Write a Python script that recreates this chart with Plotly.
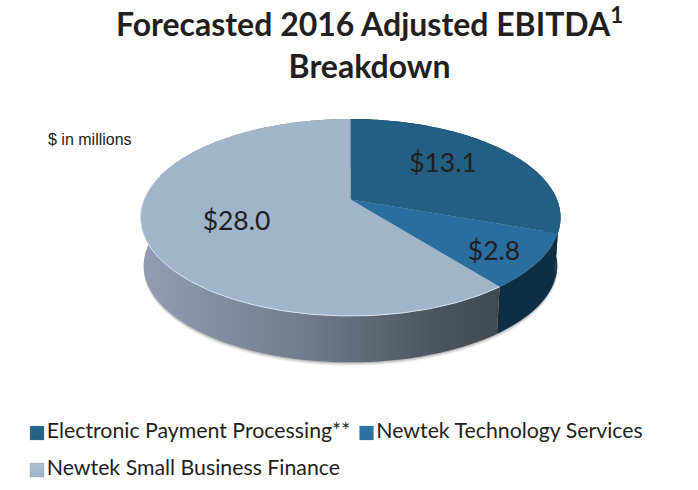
import numpy as np
import plotly.graph_objects as go

# ---- data ----
categories = ["Electronic Payment Processing**", "Newtek Technology Services", "Newtek Small Business Finance"]
values = [13.1, 2.8, 28.0]                # printed labels, $ millions
# The 3-D original does not sweep exactly in proportion to its labels, so the
# angles actually seen in the picture (after undoing the tilt) are kept separately.
drawn_sweep_deg = [109.5, 32.3, 218.2]
top_colors = ["#235F83", "#2A6D9F", "#A0B4CA"]
side_colors = ["#0F3148", "#0E2E44", "#6F7B8A"]
legend_colors = ["#27658C", "#2C74A6", "#AFC0D4"]
title_text = "Forecasted 2016 Adjusted EBITDA<sup>1</sup><br>Breakdown"
note_text = "$ in millions"

# ---- tilted-disc projection ----
CX, CY, A, B, K = 350.5, 199.5, 206.5, 95.2, 0.1827
DEPTH, BASE_SCALE = 48.5, 0.985


def project(theta, scale=1.0, drop=0.0):
    u, v = np.sin(theta) * scale, np.cos(theta) * scale
    w = 1 + K * v
    return CX + A * u / w, CY - B * v / w + drop


def arc(a0, a1, scale=1.0, drop=0.0):
    n = max(int(abs(a1 - a0) * 60), 4)
    return project(np.linspace(a0, a1, n), scale, drop)


edges = np.radians(np.concatenate([[0], np.cumsum(drawn_sweep_deg)]))
fig = go.Figure()

# soft shadow under the disc
for off, alpha in [(3.5, 0.10), (2.2, 0.16), (1.0, 0.22)]:
    x, y = arc(0, 2 * np.pi, BASE_SCALE, DEPTH + off)
    fig.add_trace(go.Scatter(x=x, y=y, fill="toself", mode="none", fillcolor=f"rgba(90,90,90,{alpha})",
                             showlegend=False, hoverinfo="skip"))

# side walls
for i in range(3):
    xt, yt = arc(edges[i], edges[i + 1])
    xb, yb = arc(edges[i + 1], edges[i], BASE_SCALE, DEPTH)
    kw = dict(fillcolor=side_colors[i])
    if i == 2:
        kw = dict(fillgradient=dict(type="horizontal",
                                    colorscale=[[0, "#929FB2"], [0.45, "#717D8C"], [0.82, "#4B5560"], [1, "#404A54"]]))
    fig.add_trace(go.Scatter(x=np.r_[xt, xb], y=np.r_[yt, yb], fill="toself", mode="none",
                             showlegend=False, hoverinfo="skip", **kw))

# top faces
for i in range(3):
    xt, yt = arc(edges[i], edges[i + 1])
    fig.add_trace(go.Scatter(x=np.r_[CX, xt, CX], y=np.r_[CY, yt, CY], fill="toself", mode="none",
                             fillcolor=top_colors[i], name=categories[i], showlegend=False,
                             hovertemplate=f"{categories[i]}: ${values[i]:.1f}<extra></extra>"))

# light rim along the front edge of the large slice
xr, yr = arc(edges[2], np.radians(285))
fig.add_trace(go.Scatter(x=xr, y=yr, mode="lines", line=dict(color="rgba(225,232,240,0.9)", width=1),
                         showlegend=False, hoverinfo="skip"))

# slice value labels
label_x = [443, 494, 236.5]
label_y = [165, 253, 223]
fig.add_trace(go.Scatter(x=label_x, y=label_y, mode="text", text=[f"${v:.1f}" for v in values],
                         textposition="middle center", showlegend=False, hoverinfo="skip",
                         textfont=dict(family="Lato", size=26.5, color="#1F1F1F")))

# legend rows
legend_x = [37, 366.5, 37]
legend_y = [433, 433, 470]
for i in range(3):
    fig.add_trace(go.Scatter(x=[legend_x[i]], y=[legend_y[i]], mode="markers+text", text=[categories[i]],
                             textposition="middle right", showlegend=False, hoverinfo="skip",
                             marker=dict(symbol="square", size=14, color=legend_colors[i],
                                         gradient=dict(type="vertical", color=top_colors[i]),
                                         line=dict(color="rgba(120,130,140,0.5)", width=0.5)),
                             textfont=dict(family="Lato", size=21.3, color="#231F20")))

fig.add_annotation(x=369, y=43, text=title_text, showarrow=False, xanchor="center", yanchor="middle",
                   font=dict(family="Lato", size=32, color="#231F20", weight="bold"), align="center")
fig.add_annotation(x=90, y=139, text=note_text, showarrow=False, xanchor="center", yanchor="middle",
                   font=dict(family="Liberation Sans", size=16, color="#1A1A1A"))

fig.update_xaxes(range=[0, 698], visible=False, fixedrange=True)
fig.update_yaxes(range=[490, 0], visible=False, fixedrange=True)
fig.update_layout(width=698, height=490, margin=dict(l=0, r=0, t=0, b=0),
                  paper_bgcolor="white", plot_bgcolor="white", showlegend=False)
fig.write_html("out.html", config={"displayModeBar": False},
               post_script="document.body.style.margin='0';document.documentElement.style.overflow='hidden';")
